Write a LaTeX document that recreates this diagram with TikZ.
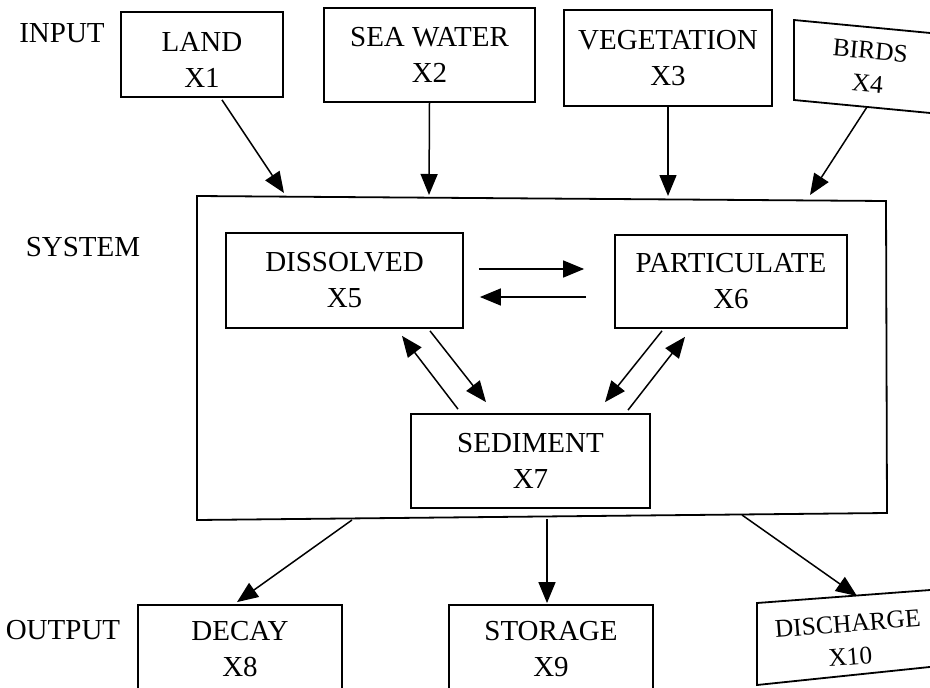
\documentclass[tikz,border=0pt]{standalone}
\usepackage{fontspec}
\setmainfont{Liberation Serif}
\usetikzlibrary{arrows.meta}
\newcommand{\lowr}[1]{\raisebox{-5pt}[\height][\depth]{#1}}
\begin{document}
\begin{tikzpicture}[x=1pt,y=-1pt,
  box/.style={draw, line width=1.8pt, inner sep=0pt, align=center, font=\fontsize{29}{36}\selectfont},
  lbl/.style={inner sep=0pt, font=\fontsize{29}{36}\selectfont},
  skewtext/.style={inner sep=0pt, align=center, font=\fontsize{25.5}{33}\selectfont},
  frame/.style={line width=1.8pt, line join=miter},
  arr/.style={line width=1.5pt, -{Triangle[length=21pt,width=17pt]}}]
\useasboundingbox (0,0) rectangle (930,688);
\fill[white] (0,0) rectangle (930,688);
\clip (0,0) rectangle (930,688);

% side labels
\node[lbl] (inputlbl) at (62,33) {INPUT};
\node[lbl] (systemlbl) at (83,247) {SYSTEM};
\node[lbl] (outputlbl) at (63,630) {OUTPUT};

% input boxes
\node[box, minimum width=162pt, minimum height=85pt] (land) at (202,54.5) {\lowr{LAND}\\\lowr{X1}};
\node[box, minimum width=211pt, minimum height=94pt] (sea) at (429.5,55) {SEA WATER\\X2};
\node[box, minimum width=208pt, minimum height=96pt] (veg) at (668,58) {VEGETATION\\X3};
\draw[frame] (794,20) -- (945,34.4) -- (945,114.4) -- (794,100) -- cycle;
\node[skewtext, rotate=-5] (birds) at (869,67) {BIRDS\\X4};

% system frame
\draw[frame] (197,196) -- (886,201) -- (887,513) -- (197,520) -- cycle;
\coordinate (in1) at (284,193);
\coordinate (in2) at (429,195);
\coordinate (in3) at (668,196);
\coordinate (in4) at (810,195);
\coordinate (birdsout) at (867,107);
\coordinate (out1) at (352,520);
\coordinate (out2) at (547,519);
\coordinate (out3) at (742,515);

% inner boxes
\node[box, minimum width=237pt, minimum height=95pt] (dis) at (344.5,280.5) {DISSOLVED\\X5};
\node[box, minimum width=232pt, minimum height=93pt] (par) at (731,281.5) {PARTICULATE\\X6};
\node[box, minimum width=239pt, minimum height=94pt] (sed) at (530.5,461) {SEDIMENT\\X7};

% output boxes
\node[box, minimum width=204pt, minimum height=88pt] (decay) at (240,649) {DECAY\\X8};
\node[box, minimum width=204pt, minimum height=88pt] (stor) at (551,649) {STORAGE\\X9};
\draw[frame] (757,603) -- (945,588.9) -- (945,665.4) -- (757,685) -- cycle;
\node[skewtext, rotate=4.5] (disch) at (849,640) {DISCHARGE\\X10};
\coordinate (dischin) at (857,596);

% input arrows
\draw[arr] ([xshift=20pt,yshift=-2pt]land.south) -- (in1);
\draw[arr] (sea.south) -- (in2);
\draw[arr] (veg.south) -- (in3);
\draw[arr] (birdsout) -- (in4);

% internal exchanges
\draw[arr] ([xshift=15pt,yshift=11.5pt]dis.east) -- ([xshift=-30pt,yshift=12.5pt]par.west);
\draw[arr] ([xshift=-28pt,yshift=-15.5pt]par.west) -- ([xshift=16pt,yshift=-16.5pt]dis.east);
\draw[arr] ([xshift=85.5pt,yshift=-2pt]dis.south) -- ([xshift=-44.5pt,yshift=11pt]sed.north);
\draw[arr] ([xshift=-72.5pt,yshift=4pt]sed.north) -- ([xshift=57.5pt,yshift=-7pt]dis.south);
\draw[arr] ([xshift=-69pt,yshift=-2pt]par.south) -- ([xshift=74.5pt,yshift=11pt]sed.north);
\draw[arr] ([xshift=97.5pt,yshift=3pt]sed.north) -- ([xshift=-46pt,yshift=-8pt]par.south);

% output arrows
\draw[arr] (out1) -- ([xshift=-3pt,yshift=2pt]decay.north);
\draw[arr] (out2) -- ([xshift=-4pt,yshift=1pt]stor.north);
\draw[arr] (out3) -- (dischin);
\end{tikzpicture}
\end{document}
